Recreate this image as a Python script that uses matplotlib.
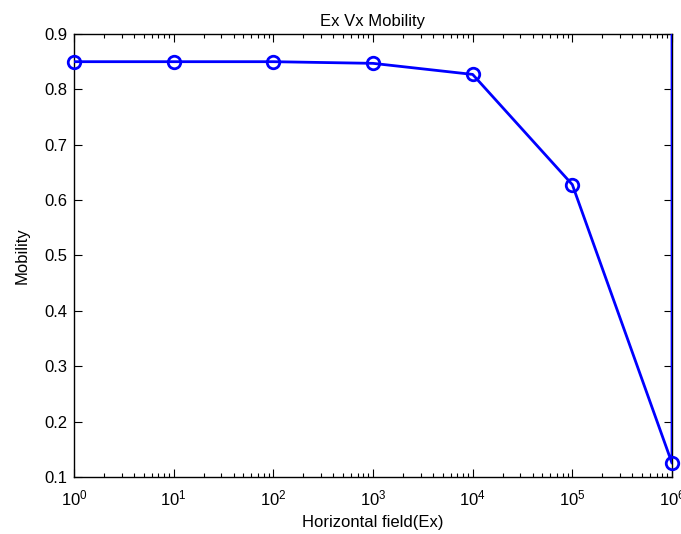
import matplotlib
matplotlib.use("Agg")
import matplotlib.pyplot as plt
from matplotlib.ticker import LogLocator, FixedLocator

plt.rcParams['font.family'] = ['Liberation Sans', 'DejaVu Sans']
plt.rcParams['mathtext.default'] = 'regular'

field = [1, 10, 100, 1000, 1e4, 1e5, 1e6, 1e6]
mobility = [0.850, 0.850, 0.850, 0.847, 0.827, 0.628, 0.125, 1.0]
yticks = [0.1, 0.2, 0.3, 0.4, 0.5, 0.6, 0.7, 0.8, 0.9]

fig = plt.figure(figsize=(6.81, 5.34), dpi=100)
ax = fig.add_axes([74/681, 57/534, (672-74)/681, (477-34)/534])

ax.plot(field, mobility, color='#0000ff', lw=2, zorder=3)
ax.plot(field[:-1], mobility[:-1], linestyle='none', marker='o', ms=9,
        mfc='none', mec='#0000ff', mew=2, clip_on=False, zorder=4)

ax.set_xscale('log')
ax.set_xlim(1, 1e6)
ax.set_ylim(0.1, 0.9)
ax.yaxis.set_major_locator(FixedLocator(yticks))
ax.set_yticklabels([f"{v:.1f}" for v in yticks])
ax.xaxis.set_major_locator(LogLocator(base=10, numticks=20))
ax.xaxis.set_minor_locator(LogLocator(base=10, subs=range(2, 10), numticks=100))

for s in ax.spines.values():
    s.set_linewidth(1.0)
ax.tick_params(which='both', direction='in', top=True, right=True,
               labelsize=12, colors='black')
ax.tick_params(which='major', length=6, width=0.8, pad=5)
ax.tick_params(axis='x', which='major', pad=8)
ax.tick_params(which='minor', length=3, width=0.8)

ax.set_title('Ex Vx Mobility', fontsize=12, pad=6)
ax.set_xlabel('Horizontal field(Ex)', fontsize=12, labelpad=5)
ax.set_ylabel('Mobility', fontsize=12, labelpad=10)

fig.savefig('out.png', dpi=100)
